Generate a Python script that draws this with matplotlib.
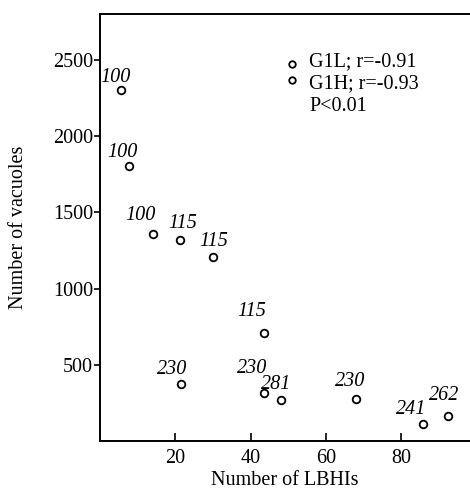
import matplotlib
matplotlib.use("Agg")
import matplotlib.pyplot as plt

plt.rcParams["font.family"] = ["Liberation Serif", "DejaVu Serif"]

# LBHI counts vs vacuole counts, with the italic number printed by each point
lbhis = [5.6, 7.8, 14.2, 21.2, 29.9, 43.5, 21.4, 43.5, 48.2, 68.1, 85.7, 92.4]
vacuoles = [2300, 1805, 1360, 1318, 1204, 707, 371, 317, 269, 273, 112, 165]
point_labels = ["100", "100", "100", "115", "115", "115",
                "230", "230", "281", "230", "241", "262"]
# label offsets from the point, in pixels
label_dx = [-6, -7, -13, 3, 1, -12, -8, -12, -5, -6, -11, -4]
label_dy = [13, 13, 18, 17, 16, 22, 15, 24, 15, 18, 14, 20]

legend_lines = ["G1L; r=-0.91", "G1H; r=-0.93", "P<0.01"]

fig = plt.figure(figsize=(4.7, 4.92), dpi=100)
ax = fig.add_axes([100 / 470, 51 / 492, 370 / 470, 427 / 492])

ax.scatter(lbhis, vacuoles, s=30, facecolors="white", edgecolors="black",
           linewidths=1.3, zorder=3)

for x, y, txt, dx, dy in zip(lbhis, vacuoles, point_labels, label_dx, label_dy):
    ax.annotate(txt, (x, y), xytext=(dx, dy), textcoords="offset pixels",
                ha="center", va="center", fontsize=14.5, style="italic")

# hand-drawn style legend in the top right
ax.scatter([0.519, 0.519], [0.883, 0.845], s=22, facecolors="white",
           edgecolors="black", linewidths=1.3, transform=ax.transAxes,
           clip_on=False)
for i, line in enumerate(legend_lines):
    ax.text(0.565, 0.888 - i * 0.052, line, transform=ax.transAxes,
            ha="left", va="center", fontsize=14.5)

ax.set_xlim(0, 98.3)
ax.set_ylim(0, 2800)
ax.set_xticks([20, 40, 60, 80])
ax.set_yticks([500, 1000, 1500, 2000, 2500])

ax.spines["right"].set_visible(False)
for side in ["left", "bottom", "top"]:
    ax.spines[side].set_linewidth(1.4)

ax.tick_params(axis="x", direction="in", length=6, width=1.2, labelsize=14.5, pad=6)
ax.tick_params(axis="y", direction="out", length=4, width=1.2, labelsize=14.5, pad=1)

ax.set_xlabel("Number of LBHIs", fontsize=14.5, labelpad=2)
ax.set_ylabel("Number of vacuoles", fontsize=14.5, labelpad=18)

fig.savefig("out.png", dpi=100)
